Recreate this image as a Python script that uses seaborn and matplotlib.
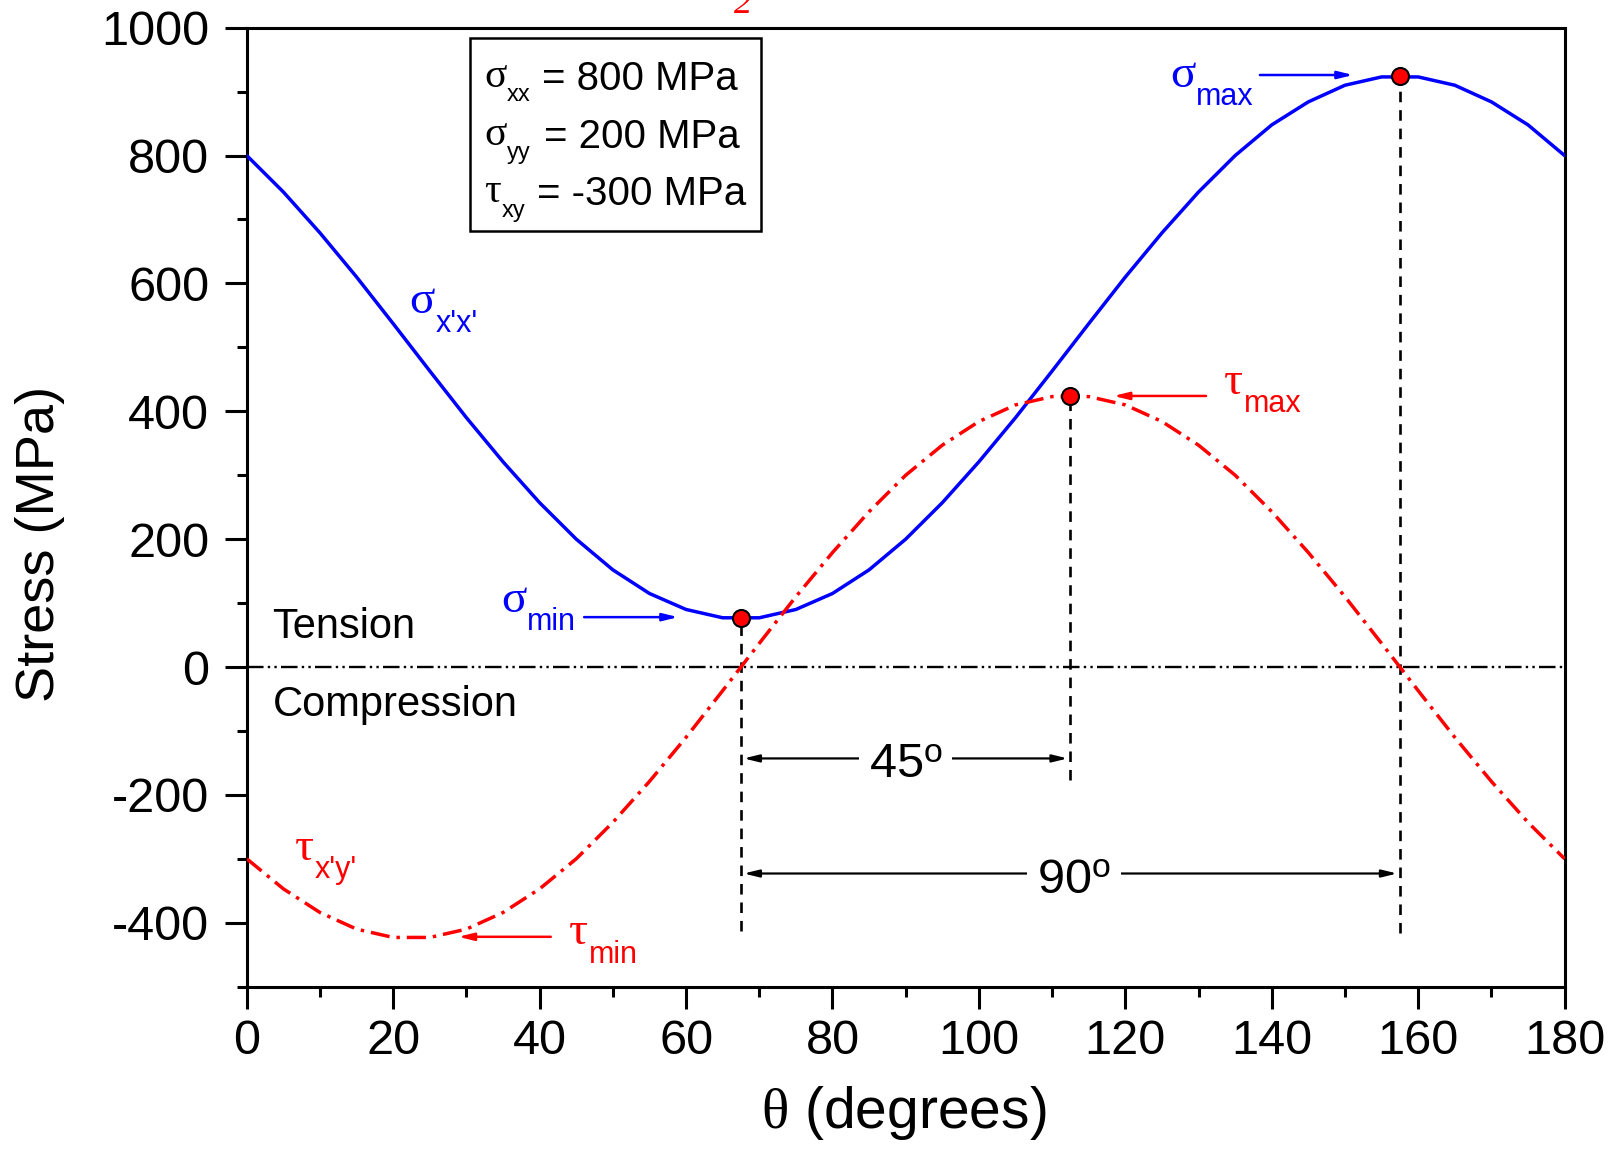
"""
Stress transformation vs. rotation angle (sigma_x'x' and tau_x'y')
"""

import matplotlib
matplotlib.use("Agg")
import matplotlib.pyplot as plt
from matplotlib.patches import Rectangle
from matplotlib.ticker import MultipleLocator
import pandas as pd
import seaborn as sns

# rotation angle (degrees), curves are drawn as 5 degree polylines
theta = [0, 5, 10, 15, 20, 25, 30, 35, 40, 45, 50, 55, 60, 65, 70, 75, 80, 85, 90,
         95, 100, 105, 110, 115, 120, 125, 130, 135, 140, 145, 150, 155, 160, 165,
         170, 175, 180]

# normal stress sigma_x'x' (MPa)
sigma_xx = [800, 743, 679, 610, 537, 463, 390, 321, 257, 200, 152, 115, 90, 77, 77,
            90, 115, 152, 200, 257, 321, 390, 463, 537, 610, 679, 743, 800, 848, 884,
            910, 923, 923, 910, 884, 848, 800]

# shear stress tau_x'y' (MPa)
tau_xy = [-300, -347, -384, -410, -423, -423, -410, -384, -347, -300, -243, -179,
          -110, -37, 37, 110, 179, 243, 300, 347, 384, 410, 423, 423, 410, 384, 347,
          300, 243, 179, 110, 37, -37, -110, -179, -243, -300]

# marked extremes: sigma_min, tau_max, sigma_max
peak_theta = [67.5, 112.5, 157.5]
peak_stress = [76, 424, 924]
# where the dashed drop lines end
drop_bottom = [-413, -176, -416]

# input stresses shown in the box
box_symbols = ["\u03c3", "\u03c3", "\u03c4"]
box_subs = ["xx", "yy", "xy"]
box_values = ["= 800 MPa", "= 200 MPa", "= -300 MPa"]

df = pd.DataFrame({"theta": theta, "sigma": sigma_xx, "tau": tau_xy})

sns.set_style("ticks")
plt.rcParams["font.family"] = ["Liberation Sans", "DejaVu Sans"]
plt.rcParams.update({
    "text.color": "black", "axes.labelcolor": "black", "axes.edgecolor": "black",
    "xtick.color": "black", "ytick.color": "black",
    "axes.unicode_minus": False,
    "mathtext.fontset": "custom",
    "mathtext.rm": "Liberation Serif",
    "mathtext.it": "Liberation Serif:italic",
})

fig, ax = plt.subplots(figsize=(16.13, 11.54), dpi=100)
fig.subplots_adjust(left=0.153, right=0.970, bottom=0.145, top=0.976)


def sub_label(x, y, sym, sub, color, size=34, sub_size=22, drop=-6):
    """Greek symbol with a sans-serif subscript hanging below it"""
    t = ax.text(x, y, sym, color=color, fontsize=size, family="Liberation Serif",
                va="baseline", zorder=6)
    ax.annotate(sub, xy=(1, 0), xycoords=t, xytext=(0.5, drop),
                textcoords="offset points", color=color, fontsize=sub_size,
                va="baseline", zorder=6)
    return t


# zero line (tension / compression boundary)
ax.axhline(0, color="black", lw=1.7, linestyle=(0, (7, 1.8, 1, 1.8, 1, 1.8)), zorder=1)

# dashed drop lines from the extremes
ax.vlines(peak_theta, drop_bottom, peak_stress, colors="black", lw=1.9,
          linestyles=(0, (4, 3)), zorder=2)

sns.lineplot(data=df, x="theta", y="sigma", color="blue", lw=2.5, ax=ax, zorder=3)
sns.lineplot(data=df, x="theta", y="tau", color="red", lw=2.5,
             linestyle=(0, (5.5, 2, 1, 2)), ax=ax, zorder=3)
sns.scatterplot(x=peak_theta, y=peak_stress, color="red", edgecolor="black",
                linewidth=1.5, s=150, ax=ax, zorder=5)

ax.set_xlim(0, 180)
ax.set_ylim(-500, 1000)
ax.xaxis.set_major_locator(MultipleLocator(20))
ax.xaxis.set_minor_locator(MultipleLocator(10))
ax.yaxis.set_minor_locator(MultipleLocator(100))
ax.set_yticks(range(-400, 1001, 200))

for side in ax.spines.values():
    side.set_linewidth(2.2)
ax.tick_params(which="major", direction="out", length=16, width=2.2, labelsize=35)
ax.tick_params(axis="x", which="major", pad=7)
ax.tick_params(axis="y", which="major", pad=11)
ax.tick_params(which="minor", direction="out", length=7.5, width=2.2)

ax.set_xlabel(r"$\mathrm{\theta}$ (degrees)", fontsize=41)
ax.set_ylabel("Stress (MPa)", fontsize=39)
ax.xaxis.set_label_coords(0.4985, -0.101)
ax.yaxis.set_label_coords(-0.138, 0.4616)

# input stress box
ax.add_patch(Rectangle((30.5, 682), 39.8, 302, fill=False, edgecolor="black", lw=1.8, zorder=4))
for sym, sub, val, yb, xe in zip(box_symbols, box_subs, box_values,
                                 [908, 817, 727], [40.3, 40.6, 39.7]):
    sub_label(32.4, yb, sym, sub, "black", size=30, sub_size=17, drop=-4)
    ax.text(xe, yb - 5, val, fontsize=29, va="baseline")

# curve labels
sub_label(22.2, 553, "\u03c3", "x'x'", "blue")
sub_label(6.6, -302, "\u03c4", "x'y'", "red")

# extreme labels with arrows
arrow_kw = dict(arrowstyle="-|>,head_length=0.9,head_width=0.22", lw=1.8)
sub_label(34.7, 86, "\u03c3", "min", "blue")
ax.annotate("", xy=(59.3, 78), xytext=(45.7, 78),
            arrowprops=dict(color="blue", **arrow_kw))
sub_label(126.1, 907, "\u03c3", "max", "blue")
ax.annotate("", xy=(151.5, 926), xytext=(138.0, 926),
            arrowprops=dict(color="blue", **arrow_kw))
sub_label(133.5, 427, "\u03c4", "max", "red")
ax.annotate("", xy=(118.0, 424), xytext=(131.4, 424),
            arrowprops=dict(color="red", **arrow_kw))
sub_label(44.0, -434, "\u03c4", "min", "red")
ax.annotate("", xy=(28.5, -422), xytext=(41.9, -422),
            arrowprops=dict(color="red", **arrow_kw))

ax.text(3.4, 46, "Tension", fontsize=30, va="baseline")
ax.text(3.6, -77, "Compression", fontsize=30, va="baseline")

# angle spans between extremes
span_kw = dict(arrowstyle="<|-|>,head_length=0.9,head_width=0.22", lw=1.6, color="black")
ax.annotate("", xy=(67.5, -143), xytext=(112.5, -143), arrowprops=span_kw)
ax.text(90, -173, r"45$^{\mathregular{o}}$", fontsize=35, ha="center", va="baseline",
        bbox=dict(facecolor="white", edgecolor="none", pad=7), zorder=6)
ax.annotate("", xy=(67.5, -323), xytext=(157.5, -323), arrowprops=span_kw)
ax.text(113, -353, r"90$^{\mathregular{o}}$", fontsize=35, ha="center", va="baseline",
        bbox=dict(facecolor="white", edgecolor="none", pad=7), zorder=6)

# leftover caption digit clipped at the top edge
fig.text(0.4606, 0.9887, "2", color="red", fontsize=26, style="italic",
         family="Liberation Serif", ha="center", va="baseline")

fig.savefig("out.png", dpi=100)
